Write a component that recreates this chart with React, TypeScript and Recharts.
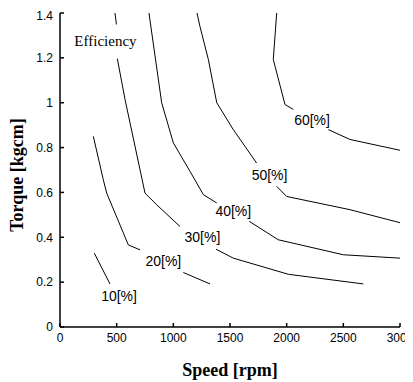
import { LineChart, Line, XAxis, YAxis, ReferenceDot } from 'recharts'

// iso-efficiency contours (speed rpm, torque kgcm)
// a null y breaks the line where the inline label sits
const eff10 = [
  { x: 303, y: 0.329 },
  { x: 441, y: 0.192 },
]
const eff20 = [
  { x: 294, y: 0.85 },
  { x: 382, y: 0.657 },
  { x: 412, y: 0.597 },
  { x: 603, y: 0.366 },
  { x: 706, y: 0.344 },
  { x: 900, y: null },
  { x: 1088, y: 0.243 },
  { x: 1324, y: 0.192 },
]
const eff30 = [
  { x: 485, y: 1.4 },
  { x: 498, y: 1.349 },
  { x: 502, y: null },
  { x: 506, y: 1.196 },
  { x: 574, y: 1.014 },
  { x: 750, y: 0.597 },
  { x: 853, y: 0.545 },
  { x: 1059, y: 0.448 },
  { x: 1200, y: null },
  { x: 1376, y: 0.347 },
  { x: 1529, y: 0.307 },
  { x: 2015, y: 0.235 },
  { x: 2676, y: 0.192 },
]
const eff40 = [
  { x: 785, y: 1.4 },
  { x: 897, y: 1.0 },
  { x: 1000, y: 0.821 },
  { x: 1147, y: 0.694 },
  { x: 1265, y: 0.59 },
  { x: 1383, y: 0.553 },
  { x: 1500, y: null },
  { x: 1670, y: 0.471 },
  { x: 1926, y: 0.389 },
  { x: 2500, y: 0.322 },
  { x: 3000, y: 0.307 },
]
const eff50 = [
  { x: 1209, y: 1.4 },
  { x: 1235, y: 1.34 },
  { x: 1309, y: 1.193 },
  { x: 1383, y: 1.0 },
  { x: 1529, y: 0.88 },
  { x: 1735, y: 0.731 },
  { x: 1850, y: null },
  { x: 1912, y: 0.627 },
  { x: 2000, y: 0.582 },
  { x: 2559, y: 0.523 },
  { x: 3000, y: 0.465 },
]
const eff60 = [
  { x: 1912, y: 1.4 },
  { x: 1882, y: 1.193 },
  { x: 1985, y: 0.992 },
  { x: 2059, y: 0.97 },
  { x: 2200, y: null },
  { x: 2368, y: 0.88 },
  { x: 2559, y: 0.836 },
  { x: 3000, y: 0.788 },
]

const contours = [eff10, eff20, eff30, eff40, eff50, eff60]

const contourLabels = [
  { x: 521, y: 0.139, text: '10[%]' },
  { x: 912, y: 0.295, text: '20[%]' },
  { x: 1257, y: 0.403, text: '30[%]' },
  { x: 1529, y: 0.518, text: '40[%]' },
  { x: 1849, y: 0.679, text: '50[%]' },
  { x: 2224, y: 0.925, text: '60[%]' },
]

const speedTicks = [0, 500, 1000, 1500, 2000, 2500, 3000]
const torqueTicks = [0, 0.2, 0.4, 0.6, 0.8, 1, 1.2, 1.4]

const sans = '"Liberation Sans", Arial, sans-serif'
const serif = '"Liberation Serif", "Times New Roman", serif'

const TorqueLabel = (props: any) => {
  const vb = props.viewBox || {}
  const x = 15
  const y = vb.y + vb.height / 2 + 5
  return (
    <text
      x={x}
      y={y}
      transform={`rotate(-90, ${x}, ${y})`}
      textAnchor="middle"
      fontFamily={serif}
      fontWeight="bold"
      fontSize={18}
      fill="#000"
    >
      Torque [kgcm]
    </text>
  )
}

export default function App() {
  return (
    <LineChart width={405} height={374} margin={{ top: 5, right: 13, bottom: 0, left: 0 }}>
      <XAxis
        type="number"
        dataKey="x"
        domain={[0, 3000]}
        ticks={speedTicks}
        allowDataOverflow
        height={55}
        stroke="#000"
        strokeWidth={1.5}
        tickSize={-4}
        tickMargin={10}
        tick={{ fontSize: 12, fontFamily: sans, fill: '#000' }}
        label={{
          value: 'Speed [rpm]',
          position: 'insideBottom',
          offset: 6,
          fontSize: 18,
          fontWeight: 'bold',
          fontFamily: serif,
          fill: '#000',
        }}
      />
      <XAxis
        xAxisId="top"
        orientation="top"
        type="number"
        domain={[0, 3000]}
        ticks={speedTicks}
        height={0}
        stroke="#000"
        strokeWidth={1.5}
        tickSize={-4}
        tick={false}
      />
      <YAxis
        type="number"
        domain={[0, 1.4]}
        ticks={torqueTicks}
        allowDataOverflow
        width={52}
        stroke="#000"
        strokeWidth={1.5}
        tickSize={-4}
        tickMargin={11}
        tick={{ fontSize: 12, fontFamily: sans, fill: '#000' }}
        label={<TorqueLabel />}
      />
      <YAxis
        yAxisId="right"
        orientation="right"
        type="number"
        domain={[0, 1.4]}
        ticks={torqueTicks}
        width={0}
        stroke="#000"
        strokeWidth={1.5}
        tickSize={-4}
        tick={false}
      />
      {contours.map((d, i) => (
        <Line
          key={i}
          data={d}
          dataKey="y"
          type="linear"
          stroke="#000"
          strokeWidth={1}
          dot={false}
          activeDot={false}
          isAnimationActive={false}
        />
      ))}
      {contourLabels.map((l) => (
        <ReferenceDot
          key={l.text}
          x={l.x}
          y={l.y}
          r={0}
          fill="none"
          stroke="none"
          label={{ value: l.text, position: 'center', fontSize: 14, fontFamily: sans, fill: '#000' }}
        />
      ))}
      <ReferenceDot
        x={401}
        y={1.276}
        r={0}
        fill="none"
        stroke="none"
        label={{ value: 'Efficiency', position: 'center', fontSize: 15, fontFamily: serif, fill: '#000' }}
      />
    </LineChart>
  )
}
